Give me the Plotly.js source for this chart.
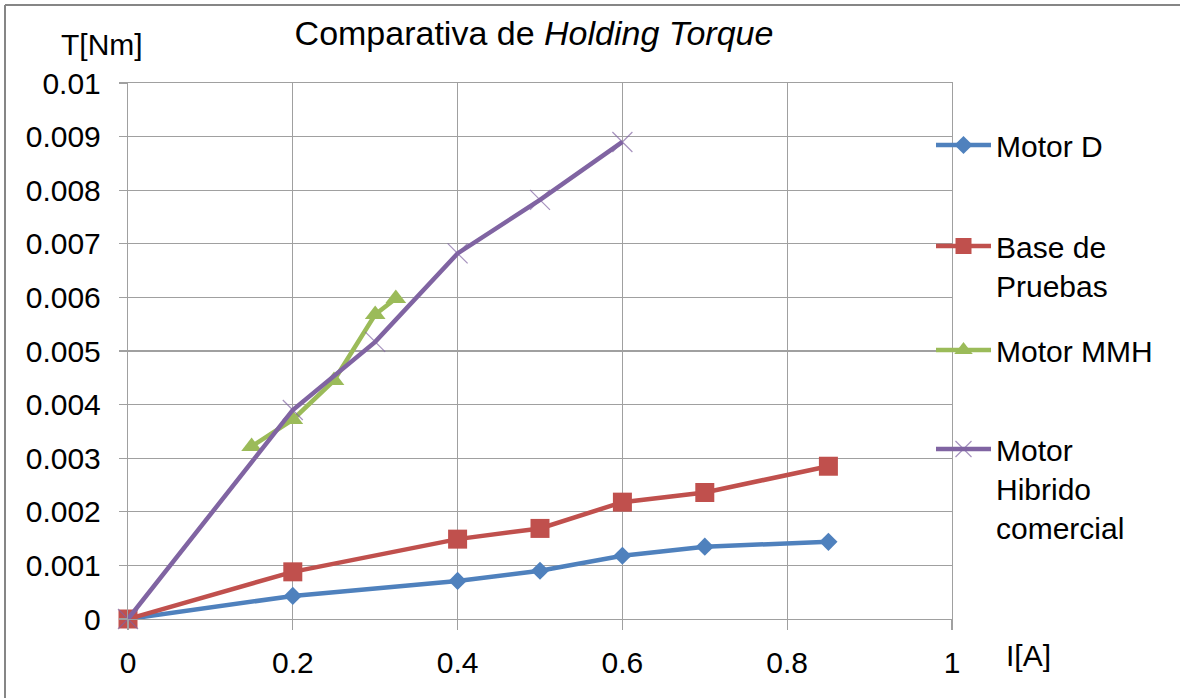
<!DOCTYPE html>
<html>
<head>
<meta charset="utf-8">
<script src="https://cdn.plot.ly/plotly-3.0.1.min.js"></script>
<style>
  html, body { margin: 0; padding: 0; background: #fff; }
  #chart { width: 1180px; height: 698px; }
</style>
</head>
<body>
<div id="chart"></div>
<script>
// ---- Data ----
const motorD_I = [0, 0.2, 0.4, 0.5, 0.6, 0.7, 0.85];
const motorD_T = [0, 0.00043, 0.00071, 0.0009, 0.00118, 0.00135, 0.00144];

const base_I = [0, 0.2, 0.4, 0.5, 0.6, 0.7, 0.85];
const base_T = [0, 0.00088, 0.00149, 0.00169, 0.00218, 0.00236, 0.00285];

const mmh_I = [0.15, 0.2, 0.25, 0.3, 0.325];
const mmh_T = [0.00322, 0.00372, 0.00445, 0.00568, 0.00598];

const hib_I = [0, 0.2, 0.3, 0.4, 0.5, 0.6];
const hib_T = [0, 0.0039, 0.00517, 0.00682, 0.00782, 0.0089];

const seriesNames = ['Motor D', 'Base de<br>Pruebas', 'Motor MMH', 'Motor<br>Hibrido<br>comercial'];

const xTickVals = [0, 0.2, 0.4, 0.6, 0.8, 1];
const xTickText = ['0', '0.2', '0.4', '0.6', '0.8', '1'];
const yTickVals = [0, 0.001, 0.002, 0.003, 0.004, 0.005, 0.006, 0.007, 0.008, 0.009, 0.01];
const yTickText = ['0', '0.001', '0.002', '0.003', '0.004', '0.005', '0.006', '0.007', '0.008', '0.009', '0.01'];

const chartTitle = 'Comparativa de <i>Holding Torque</i>';
const yLabel = 'T[Nm]';
const xLabel = 'I[A]';

// ---- Styling ----
const FONT = 'Liberation Sans, Arial, sans-serif';
const GRID = '#a0a0a0';
const W = 1180, H = 698;
const M = {l: 128, r: 228, t: 83, b: 79};
const plotW = W - M.l - M.r, plotH = H - M.t - M.b;
const px2x = px => (px - M.l) / plotW;
const py2y = py => (H - M.b - py) / plotH;

const traces = [
  {x: motorD_I, y: motorD_T, name: seriesNames[0], legend: 'legend', showlegend: true, cliponaxis: false,
   mode: 'lines+markers', line: {color: '#4F81BD', width: 4.5},
   marker: {symbol: 'diamond', size: 14, color: '#4F81BD'}},
  {x: base_I, y: base_T, name: seriesNames[1], legend: 'legend2', showlegend: true, cliponaxis: false,
   mode: 'lines+markers', line: {color: '#C0504D', width: 4.5},
   marker: {symbol: 'square', size: 19, color: '#C0504D'}},
  {x: mmh_I, y: mmh_T, name: seriesNames[2], legend: 'legend3', showlegend: true, cliponaxis: false,
   mode: 'lines+markers', line: {color: '#9BBB59', width: 4.5},
   marker: {symbol: 'triangle-up', size: 18, color: '#9BBB59'}},
  {x: hib_I, y: hib_T, name: seriesNames[3], legend: 'legend4', showlegend: true, cliponaxis: false,
   mode: 'lines+markers', line: {color: '#8064A2', width: 4.5},
   marker: {symbol: 'x-thin', size: 20, color: 'rgba(128,100,162,0.7)', line: {width: 1.2, color: 'rgba(128,100,162,0.7)'}}}
];

function mkLegend(topPy) {
  return {
    visible: true,
    x: px2x(931), y: py2y(topPy), xanchor: 'left', yanchor: 'top',
    xref: 'paper', yref: 'paper',
    font: {family: FONT, size: 30, color: '#000'},
    bgcolor: 'rgba(0,0,0,0)', borderwidth: 0, valign: 'top', itemwidth: 55
  };
}

const layout = {
  width: W, height: H,
  margin: M,
  showlegend: true,
  paper_bgcolor: '#fff', plot_bgcolor: '#fff',
  font: {family: FONT, size: 30, color: '#000'},
  title: {
    text: chartTitle, font: {family: FONT, size: 34, color: '#000'},
    xref: 'paper', x: px2x(534), xanchor: 'center',
    yref: 'container', y: 1 - 33 / H, yanchor: 'middle'
  },
  xaxis: {
    range: [0, 1], tickvals: xTickVals, ticktext: xTickText,
    showgrid: true, gridcolor: GRID, gridwidth: 1.2,
    zeroline: false, showline: true, linecolor: GRID, linewidth: 1.2, mirror: true,
    ticks: 'outside', ticklen: 10, tickcolor: GRID, tickwidth: 1.2,
    tickfont: {family: FONT, size: 30, color: '#000'}, ticklabelstandoff: 7
  },
  yaxis: {
    range: [0, 0.01], tickvals: yTickVals, ticktext: yTickText,
    showgrid: true, gridcolor: GRID, gridwidth: 1.2,
    zeroline: false, showline: true, linecolor: GRID, linewidth: 1.2, mirror: true,
    ticks: 'outside', ticklen: 8, tickcolor: GRID, tickwidth: 1.2,
    tickfont: {family: FONT, size: 30, color: '#000'}, ticklabelstandoff: 12
  },
  legend: mkLegend(119),
  legend2: mkLegend(220),
  legend3: mkLegend(324),
  legend4: mkLegend(423),
  annotations: [
    {text: yLabel, xref: 'paper', yref: 'paper', x: px2x(102), y: py2y(44),
     xanchor: 'center', yanchor: 'middle', showarrow: false,
     font: {family: FONT, size: 30, color: '#000'}},
    {text: xLabel, xref: 'paper', yref: 'paper', x: px2x(1028), y: py2y(655),
     xanchor: 'center', yanchor: 'middle', showarrow: false,
     font: {family: FONT, size: 30, color: '#000'}}
  ],
  shapes: [
    {type: 'line', xref: 'paper', yref: 'paper', x0: px2x(5), x1: px2x(5), y0: py2y(5), y1: py2y(720),
     line: {color: '#868686', width: 2}},
    {type: 'line', xref: 'paper', yref: 'paper', x0: px2x(5), x1: px2x(1200), y0: py2y(5), y1: py2y(5),
     line: {color: '#868686', width: 2}}
  ]
};

Plotly.newPlot('chart', traces, layout, {displayModeBar: false, staticPlot: true});
</script>
</body>
</html>
